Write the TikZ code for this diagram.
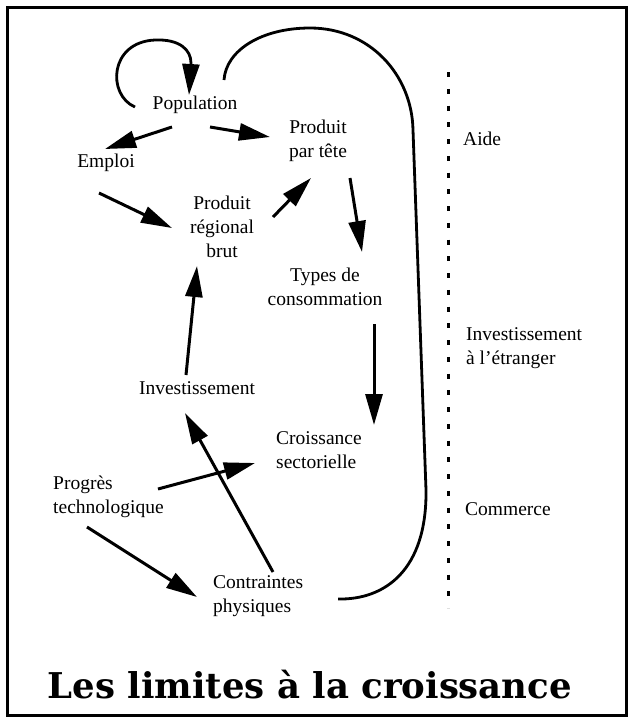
\documentclass[tikz,border=0pt]{standalone}
\usepackage{fontspec}
\usepackage{graphicx}
\setmainfont{Liberation Serif}
\newfontfamily\titlefont{DejaVu Serif}
\usetikzlibrary{arrows.meta,calc}

\newcommand{\bodyfont}{\fontsize{19.5pt}{24pt}\selectfont}

\tikzset{
  lbl/.style={font=\bodyfont, inner sep=0pt, align=center},
  lbll/.style={font=\bodyfont, inner sep=0pt, align=left, anchor=west},
  tip/.style={-{Triangle[length=31pt,width=17pt]}},
  arr/.style={line width=3pt, tip},
  loopline/.style={line width=2.8pt},
  sep/.style={line width=3pt, dash pattern=on 5pt off 11.75pt},
}

\begin{document}
\begin{tikzpicture}[x=1pt,y=-1pt]
  \useasboundingbox (0,0) rectangle (632,721);
  \fill[white] (0,0) rectangle (632,721);

  % outer frame
  \draw[line width=3pt] (7,7) rectangle (626,715);

  % variables of the system
  \node[lbl] (pop)   at (195,105)   {Population};
  \node[lbl] (emp)   at (106,163)   {Emploi};
  \node[lbl] (ppt)   at (318,140.5) {Produit\\par tête};
  \node[lbl] (prb)   at (222,227)   {Produit\\régional\\brut};
  \node[lbl] (types) at (325,287)   {Types de\\consommation};
  \node[lbl] (inv)   at (197,388)   {Investissement};
  \node[lbll] (crois) at (276,450.5) {Croissance\\sectorielle};
  \node[lbll] (prog)  at (53,496.5)  {Progrès\\technologique};
  \node[lbll] (contr) at (213,596.5) {Contraintes\\physiques};

  % external links
  \node[lbll] (aide)  at (463,139)   {Aide};
  \node[lbll] (invet) at (466,348.5) {Investissement\\à l'étranger};
  \node[lbll] (comm)  at (465,509)   {Commerce};

  % boundary of the region
  \draw[sep] (448,72) -- (448,608);

  % causal links
  \draw[loopline, tip]
    ($(pop)+(-60,2)$) .. controls ($(pop)+(-88,-10)$) and ($(pop)+(-86,-63)$) ..
    ($(pop)+(-40,-65)$) .. controls ($(pop)+(-15,-66)$) and ($(pop)+(-4,-55)$) ..
    ($(pop)+(-4,-42)$) -- ($(pop)+(-6,-10)$);
  \draw[arr] ($(pop)+(-23,22)$)   -- ($(emp)+(-1,-14)$);
  \draw[arr] ($(pop)+(15,22)$)    -- ($(ppt)+(-48,-3.5)$);
  \draw[arr] ($(emp)+(-7,30)$)    -- ($(prb)+(-50,1)$);
  \draw[arr] ($(prb)+(51,-10)$)   -- ($(ppt)+(-7,37.5)$);
  \draw[arr] ($(ppt)+(32,37.5)$)  -- ($(types)+(37,-35)$);
  \draw[arr] ($(types)+(49,37)$)  -- ($(crois.west)+(98,-25.5)$);
  \draw[arr] ($(inv)+(-11,-13)$)  -- ($(prb)+(-25,39)$);
  \draw[arr] ($(contr.west)+(60,-24.5)$) -- ($(inv)+(-12,25)$);
  \draw[arr] ($(prog.west)+(105,-7.5)$) -- ($(crois.west)+(-21,12.5)$);
  \draw[arr] ($(prog.west)+(34,30.5)$) -- ($(contr.west)+(-16,0.5)$);

  % feedback loop around the system
  \draw[loopline]
    ($(pop)+(29,-25)$) .. controls (226,50) and (262,28) .. (310,28)
    .. controls (370,28) and (412,75) .. (413,130)
    -- (426,490)
    .. controls (427,570) and (385,600) .. ($(contr.west)+(125,2.5)$);

  % title
  \node[inner sep=0pt] (title) at (310,685)
    {\resizebox{524pt}{!}{\titlefont\bfseries Les limites à la croissance}};
\end{tikzpicture}
\end{document}
